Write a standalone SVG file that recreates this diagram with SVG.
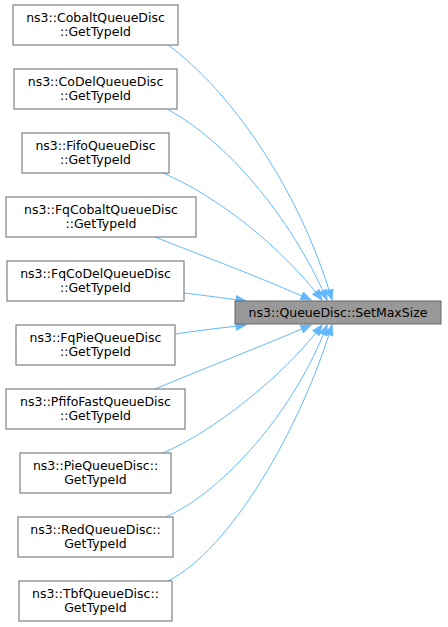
<svg xmlns="http://www.w3.org/2000/svg" width="448" height="627" viewBox="0 0 448 627">
<style>
.n rect{fill:#ffffff;stroke:#666666;stroke-width:1}
.t rect{fill:#999999;stroke:#666666;stroke-width:1}
text{font-family:"DejaVu Sans","Liberation Sans",sans-serif;font-size:12.5px;fill:#000000;text-anchor:middle}
.e path{fill:none;stroke:#63b8ff;stroke-width:1;marker-end:url(#ah)}
</style>
<defs>
<marker id="ah" markerUnits="userSpaceOnUse" markerWidth="12" markerHeight="9" refX="11" refY="4.5" orient="auto">
<path d="M1,0.5 L11,4.5 L1,8.5 Z" fill="#63b8ff" stroke="#63b8ff" stroke-width="1"/>
</marker>
</defs>
<rect width="448" height="627" fill="#ffffff"/>
<g id="edges" class="e">
<path d="M168,45 C230,90 300,190 332,300"/>
<path d="M167,109 C225,140 290,215 327,300"/>
<path d="M163,173 C215,195 280,245 322,300"/>
<path d="M155,237 C200,255 260,277 311,300"/>
<path d="M184,293 C202,295 222,298 246,301"/>
<path d="M175,334 C195,331 220,328 246,325"/>
<path d="M155,389 C200,370 260,347 311,325"/>
<path d="M163,453 C212,432 282,378 322,325"/>
<path d="M166,517 C225,490 295,410 327,325"/>
<path d="M168,581 C230,550 300,430 332,325"/>
</g>
<g id="target" class="t"><rect x="235" y="301" width="206" height="23"/><text x="338" y="317">ns3::QueueDisc::SetMaxSize</text></g>
<g id="n1" class="n"><rect x="13" y="5" width="165" height="40"/><text x="95.5" y="22">ns3::CobaltQueueDisc</text><text x="95.5" y="36">::GetTypeId</text></g>
<g id="n2" class="n"><rect x="14" y="69" width="163" height="40"/><text x="95.5" y="86">ns3::CoDelQueueDisc</text><text x="95.5" y="100">::GetTypeId</text></g>
<g id="n3" class="n"><rect x="22" y="133" width="147" height="40"/><text x="95.5" y="150">ns3::FifoQueueDisc</text><text x="95.5" y="164">::GetTypeId</text></g>
<g id="n4" class="n"><rect x="6" y="197" width="190" height="40"/><text x="101" y="214">ns3::FqCobaltQueueDisc</text><text x="101" y="228">::GetTypeId</text></g>
<g id="n5" class="n"><rect x="7" y="261" width="177" height="40"/><text x="95.5" y="278">ns3::FqCoDelQueueDisc</text><text x="95.5" y="292">::GetTypeId</text></g>
<g id="n6" class="n"><rect x="16" y="325" width="159" height="40"/><text x="95.5" y="342">ns3::FqPieQueueDisc</text><text x="95.5" y="356">::GetTypeId</text></g>
<g id="n7" class="n"><rect x="6" y="389" width="179" height="40"/><text x="95.5" y="406">ns3::PfifoFastQueueDisc</text><text x="95.5" y="420">::GetTypeId</text></g>
<g id="n8" class="n"><rect x="20" y="453" width="151" height="40"/><text x="95.5" y="470">ns3::PieQueueDisc::</text><text x="95.5" y="484">GetTypeId</text></g>
<g id="n9" class="n"><rect x="18" y="517" width="155" height="40"/><text x="95.5" y="534">ns3::RedQueueDisc::</text><text x="95.5" y="548">GetTypeId</text></g>
<g id="n10" class="n"><rect x="19" y="581" width="153" height="40"/><text x="95.5" y="598">ns3::TbfQueueDisc::</text><text x="95.5" y="612">GetTypeId</text></g>
</svg>
